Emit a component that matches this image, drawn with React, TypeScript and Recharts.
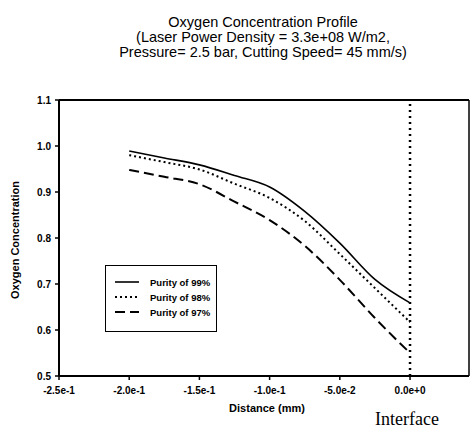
import { CartesianGrid, Line, LineChart, ReferenceLine, XAxis, YAxis } from "recharts";

const distance = [-0.2, -0.175, -0.15, -0.125, -0.1, -0.075, -0.05, -0.025, 0];
const purity99 = [0.989, 0.974, 0.959, 0.936, 0.911, 0.858, 0.789, 0.71, 0.659];
const purity98 = [0.98, 0.965, 0.949, 0.918, 0.887, 0.837, 0.765, 0.691, 0.617];
const purity97 = [0.948, 0.933, 0.917, 0.879, 0.839, 0.783, 0.709, 0.626, 0.55];

const xTicks = [-0.25, -0.2, -0.15, -0.1, -0.05, 0];
const xTickLabels = ["-2.5e-1", "-2.0e-1", "-1.5e-1", "-1.0e-1", "-5.0e-2", "0.0e+0"];
const yTicks = [0.5, 0.6, 0.7, 0.8, 0.9, 1.0, 1.1];
const yTickLabels = ["0.5", "0.6", "0.7", "0.8", "0.9", "1.0", "1.1"];

const seriesNames = ["Purity of 99%", "Purity of 98%", "Purity of 97%"];
const dashes = ["", "2 3", "10 5"];

const titleLines = [
  "Oxygen Concentration Profile",
  "(Laser Power Density = 3.3e+08 W/m2,",
  "Pressure= 2.5 bar, Cutting Speed= 45 mm/s)",
];

const font = "'Liberation Sans', Arial, sans-serif";

export default function App() {
  const data = distance.map((d, i) => ({
    d,
    p99: purity99[i],
    p98: purity98[i],
    p97: purity97[i],
  }));
  const keys = ["p99", "p98", "p97"];
  const widths = [1.6, 2, 2];

  const tick = { fill: "#000", fontSize: 10, fontWeight: 700, fontFamily: font };

  return (
    <div style={{ position: "absolute", left: 0, top: 0, width: 471, height: 430, background: "#fff", overflow: "hidden" }}>
      <div style={{ position: "absolute", left: 63, top: 15, width: 400, textAlign: "center", fontFamily: font, fontSize: 14.5, lineHeight: "15px", color: "#000" }}>
        {titleLines.map((t) => (
          <div key={t}>{t}</div>
        ))}
      </div>

      <LineChart width={471} height={430} data={data} margin={{ top: 100, right: 2, left: 19, bottom: 24 }}>
        <CartesianGrid horizontal={false} vertical={false} />
        <XAxis
          dataKey="d"
          type="number"
          domain={[-0.25, 0.042]}
          ticks={xTicks}
          tickFormatter={(v: number) => xTickLabels[xTicks.indexOf(v)] ?? ""}
          tick={tick}
          tickSize={4}
          tickMargin={7}
          height={30}
          axisLine={{ stroke: "#000", strokeWidth: 2 }}
          tickLine={{ stroke: "#000", strokeWidth: 1.5 }}
          allowDataOverflow
        />
        <YAxis
          type="number"
          domain={[0.5, 1.1]}
          ticks={yTicks}
          tickFormatter={(v: number) => yTickLabels[yTicks.indexOf(v)] ?? ""}
          tick={tick}
          tickSize={4}
          tickMargin={4}
          width={40}
          axisLine={{ stroke: "#000", strokeWidth: 2 }}
          tickLine={{ stroke: "#000", strokeWidth: 1.5 }}
          allowDataOverflow
        />
        <ReferenceLine y={1.1} stroke="#000" strokeWidth={2} />
        <ReferenceLine x={0.042} stroke="#000" strokeWidth={1.5} />
        <ReferenceLine x={0} stroke="#000" strokeWidth={2.5} strokeDasharray="2 4" />
        {keys.map((k, i) => (
          <Line
            key={k}
            dataKey={k}
            name={seriesNames[i]}
            type="monotone"
            stroke="#000"
            strokeWidth={widths[i]}
            strokeDasharray={dashes[i] || undefined}
            dot={false}
            isAnimationActive={false}
          />
        ))}
      </LineChart>

      <div
        style={{
          position: "absolute",
          left: 15,
          top: 240,
          transform: "translate(-50%, -50%) rotate(-90deg)",
          whiteSpace: "nowrap",
          fontFamily: font,
          fontSize: 11,
          fontWeight: 700,
        }}
      >
        Oxygen Concentration
      </div>
      <div style={{ position: "absolute", left: 267, top: 408, transform: "translate(-50%, -50%)", whiteSpace: "nowrap", fontFamily: font, fontSize: 11, fontWeight: 700 }}>
        Distance (mm)
      </div>
      <div style={{ position: "absolute", left: 407, top: 419, transform: "translate(-50%, -50%)", whiteSpace: "nowrap", fontFamily: "'Liberation Serif', 'Times New Roman', serif", fontSize: 18 }}>
        Interface
      </div>

      <div
        style={{
          position: "absolute",
          left: 105,
          top: 265,
          width: 110,
          height: 65,
          border: "1.5px solid #000",
          fontFamily: font,
          fontSize: 9.5,
          fontWeight: 700,
        }}
      >
        {seriesNames.map((n, i) => (
          <div key={n} style={{ position: "absolute", left: 8, top: 9 + i * 15, height: 14, display: "flex", alignItems: "center" }}>
            <svg width={26} height={6} style={{ marginRight: 10 }}>
              <line x1={1} y1={3} x2={25} y2={3} stroke="#000" strokeWidth={widths[i]} strokeDasharray={dashes[i] || undefined} />
            </svg>
            <span>{n}</span>
          </div>
        ))}
      </div>
    </div>
  );
}
